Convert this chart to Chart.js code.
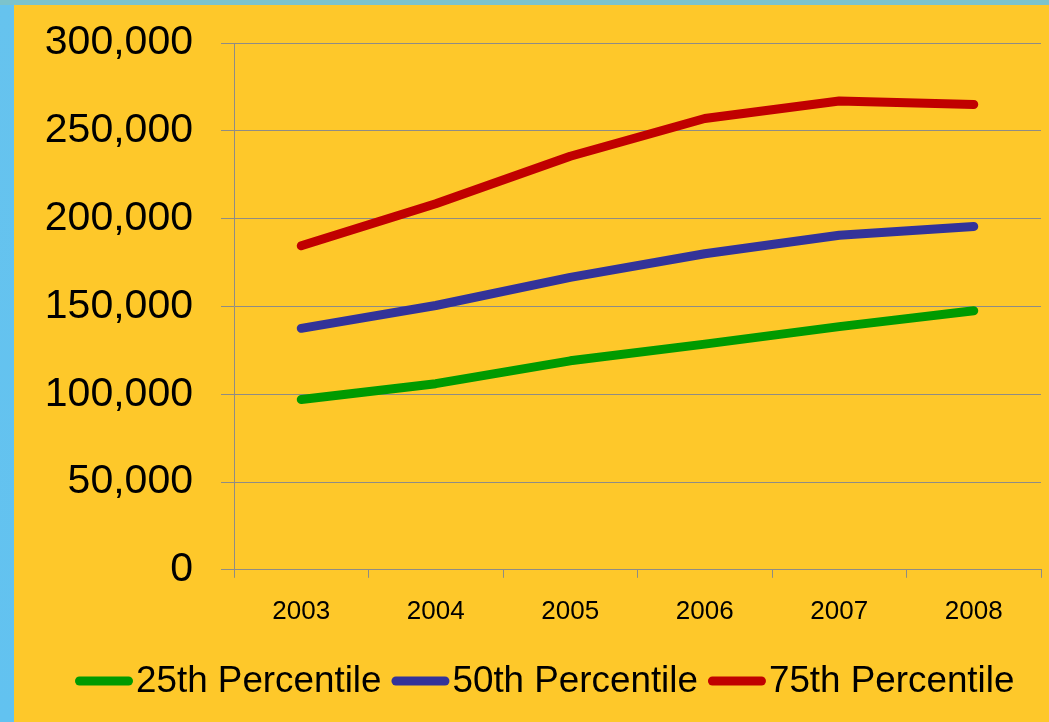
<!DOCTYPE html>
<html>
<head>
<meta charset="utf-8">
<script src="https://cdn.jsdelivr.net/npm/chart.js@4.4.1/dist/chart.umd.min.js"></script>
<style>
  html, body { margin: 0; padding: 0; width: 1049px; height: 722px; overflow: hidden; }
  body { background: linear-gradient(180deg, #7cc3cc 0px, #7cc3cc 5px, #66c3ee 5px, #62c2f0 722px); position: relative; }
  #wrap { position: absolute; left: 14px; top: 5px; width: 1035px; height: 717px; background: #fec82a; }
  canvas { display: block; }
</style>
</head>
<body>
<div id="wrap"><canvas id="c" width="1035" height="717"></canvas></div>
<script>
const categories = ["2003", "2004", "2005", "2006", "2007", "2008"];
const seriesNames = ["25th Percentile", "50th Percentile", "75th Percentile"];
const p25 = [97000, 106000, 119000, 128500, 138500, 147500];
const p50 = [137500, 150500, 166500, 180000, 190500, 195500];
const p75 = [184500, 208500, 235500, 257000, 267000, 265000];
const yTicks = [0, 50000, 100000, 150000, 200000, 250000, 300000];
const colors = ["#009a00", "#333399", "#c00000"];

const FONT = "'Liberation Sans', Arial, sans-serif";
const GRID = '#8f8c84';

const legendPlugin = {
  id: 'customLegend',
  afterDraw(chart) {
    const ctx = chart.ctx;
    ctx.save();
    ctx.font = "36.8px " + FONT;
    ctx.textBaseline = 'middle';
    ctx.textAlign = 'left';
    const y = 676;
    let x = 61;
    const lineW = 58, lw = 9;
    chart.data.datasets.forEach((ds, i) => {
      ctx.strokeStyle = ds.borderColor;
      ctx.lineWidth = lw;
      ctx.lineCap = 'round';
      ctx.beginPath();
      ctx.moveTo(x + lw / 2, y);
      ctx.lineTo(x + lineW - lw / 2, y);
      ctx.stroke();
      x += lineW + 3;
      ctx.fillStyle = '#000';
      ctx.fillText(ds.label, x, y + 1);
      x += ctx.measureText(ds.label).width + 10;
    });
    ctx.restore();
  }
};

const mk = (i, data) => ({
  label: seriesNames[i],
  data: data,
  borderColor: colors[i],
  backgroundColor: colors[i],
  borderWidth: 9,
  borderCapStyle: 'round',
  borderJoinStyle: 'round',
  pointRadius: 0,
  tension: 0,
  fill: false
});

new Chart(document.getElementById('c'), {
  type: 'line',
  data: {
    labels: categories,
    datasets: [mk(0, p25), mk(1, p50), mk(2, p75)]
  },
  options: {
    responsive: false,
    animation: false,
    layout: { padding: { top: 38, right: 8, bottom: 77, left: 0 } },
    plugins: { legend: { display: false }, tooltip: { enabled: false } },
    scales: {
      x: {
        offset: true,
        grid: { display: true, drawOnChartArea: false, drawTicks: true, tickLength: 8, color: GRID, offset: true },
        border: { display: true, color: GRID, width: 1 },
        ticks: { color: '#000', font: { family: FONT, size: 26 }, padding: 18, maxRotation: 0 }
      },
      y: {
        min: 0, max: 300000,
        afterFit(scale) { scale.width = 220; scale.paddingTop = 0; scale.paddingBottom = 0; },
        afterBuildTicks(scale) { scale.ticks = yTicks.map(v => ({ value: v })); },
        grid: { color: GRID, lineWidth: 1, drawTicks: true, tickLength: 13 },
        border: { display: true, color: GRID, width: 1 },
        ticks: {
          color: '#000',
          font: { family: FONT, size: 41, lineHeight: 0.5 },
          padding: 28,
          callback: v => v.toLocaleString('en-US')
        }
      }
    }
  },
  plugins: [legendPlugin]
});
</script>
</body>
</html>
